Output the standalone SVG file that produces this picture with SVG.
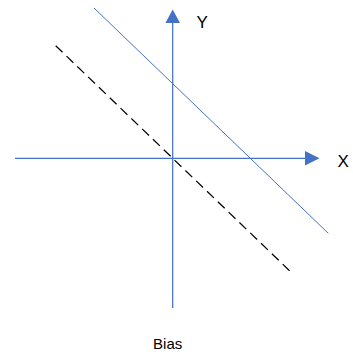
<svg xmlns="http://www.w3.org/2000/svg" width="353" height="356" viewBox="0 0 353 356">
<style>
.ax{stroke:#4472C4;stroke-width:1.25;fill:none}
.ah{fill:#4472C4;stroke:none}
.ln{stroke:#4472C4;stroke-width:1;fill:none}
.dash{stroke:#000;stroke-width:1.25;fill:none;stroke-dasharray:9.5 5.5}
text{font-family:"Liberation Sans",Arial,sans-serif;fill:#000}
</style>
<g id="connectors">
<line id="x-axis" class="ax" x1="15" y1="158.3" x2="306" y2="158.3"/>
<polygon class="ah" points="305,151 319.5,158.3 305,165.6"/>
<line id="y-axis" class="ax" x1="172.7" y1="308" x2="172.7" y2="22"/>
<polygon class="ah" points="165.4,23 172.7,9.5 180,23"/>
<line id="bias-line" class="ln" x1="94" y1="8" x2="328.3" y2="233.3"/>
<line id="origin-line" class="dash" x1="55.7" y1="45.7" x2="289.5" y2="270.7"/>
</g>
<g id="label-y"><text x="196.5" y="27.8" font-size="17">Y</text></g>
<g id="label-x"><text x="337.5" y="166.8" font-size="17">X</text></g>
<g id="label-bias"><text x="167.7" y="349.3" font-size="15" text-anchor="middle">Bias</text></g>
</svg>
